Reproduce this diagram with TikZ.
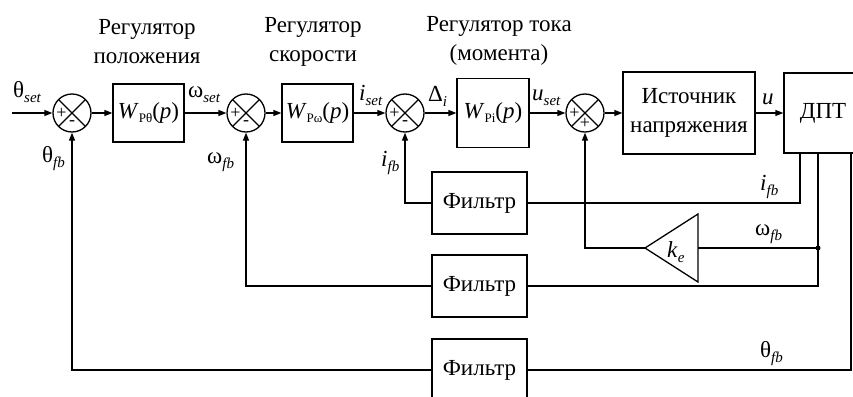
\documentclass[tikz,border=0pt]{standalone}
\usepackage{fontspec}
\setmainfont{Liberation Serif}
\usetikzlibrary{arrows.meta}
\newcommand{\lbl}{\fontsize{23}{29}\selectfont}
\newcommand{\signs}{\fontsize{18}{18}\selectfont}
\newcommand{\sig}[2]{#1\raisebox{-5pt}{\fontsize{15}{15}\selectfont\itshape #2}}
\newcommand{\tf}[1]{\textit{W}\raisebox{-4pt}{\fontsize{13}{13}\selectfont #1}(\textit{p})}
\tikzset{
 every node/.append style={font=\lbl,align=center},
 box/.style={draw,line width=1.3pt,inner sep=0pt},
 sumnode/.style={circle,draw,line width=1.3pt,minimum size=38pt,inner sep=0pt,path picture={
   \draw[line width=1.3pt] (path picture bounding box.north west) -- (path picture bounding box.south east)
     (path picture bounding box.north east) -- (path picture bounding box.south west);
   \node[font=\signs,inner sep=0pt] at ([xshift=-10.5pt]path picture bounding box.center) {+};
   \node[font=\signs,inner sep=0pt] at ([yshift=-10.5pt]path picture bounding box.center) {#1};}},
 sym/.style={anchor=base west,inner sep=0pt},
 wire/.style={line width=1.3pt},
 feed/.style={wire,-{Triangle[length=8pt,width=6pt]}},
}

\begin{document}
\begin{tikzpicture}[x=1pt,y=-1pt]

\useasboundingbox (0,0) rectangle (853,396);
\node (capA) at (147,42) {Регулятор\\положения};
\node (capB) at (313,42) {Регулятор\\скорости};
\node (capC) at (499,41) {Регулятор тока\\(момента)};

\coordinate (in) at (12,113);
\node[sumnode=-] (s1) at (72,113) {};
\node[box,minimum width=71,minimum height=58] (wth) at (148.5,113) {\tf{Рθ}};
\node[sumnode=-] (s2) at (246,113) {};
\node[box,minimum width=71,minimum height=58] (wom) at (317.5,113) {\tf{Рω}};
\node[sumnode=-] (s3) at (405,113) {};
\node[box,minimum width=72,minimum height=69] (wi) at (493,113) {\tf{Рi}};
\node[sumnode=+] (s4) at (585,113) {};
\node[box,minimum width=132,minimum height=82] (src) at (689,113) {Источник\\напряжения};
\node[box,minimum width=78,minimum height=80] (dpt) at (823,113) {ДПТ};

\draw[feed] (in) -- (s1);
\draw[feed] (s1) -- (wth);
\draw[feed] (wth) -- (s2);
\draw[feed] (s2) -- (wom);
\draw[feed] (wom) -- (s3);
\draw[feed] (s3) -- (wi);
\draw[feed] (wi) -- (s4);
\draw[feed] (s4) -- (src);
\draw[feed] (src) -- (dpt);

\foreach \y/\n in {203/1,286/2,370/3}
  \node[box,minimum width=95,minimum height=62] (filt\n) at (479.5,\y) {Фильтр};

\coordinate (ketip) at (645,248);
\coordinate (keback) at (698,248);
\draw[wire] (ketip) -- (698,214) -- (698,282) -- cycle;
\node[sym] (ke) at (667,257) {\sig{\textit{k}}{e}};
\coordinate (wdot) at ([xshift=-5pt]dpt.south |- ketip);

\draw[wire] ([xshift=-23pt]dpt.south) |- (filt1.east);
\draw[feed] (filt1.west) -| (s3.south);
\draw[wire] ([xshift=-5pt]dpt.south) |- (filt2.east);
\draw[feed] (filt2.west) -| (s2.south);
\draw[wire] ([xshift=28pt]dpt.south) |- (filt3.east);
\draw[feed] (filt3.west) -| (s1.south);
\draw[wire] (wdot) -- (keback);
\draw[feed] (ketip) -| (s4.south);
\fill (wdot) circle (2.5pt);

\node[sym] (thset) at (13,97) {\sig{θ}{set}};
\node[sym] (thfb) at (42,162) {\sig{θ}{fb}};
\node[sym] (omset) at (188,97) {\sig{ω}{set}};
\node[sym] (omfb) at (207,163) {\sig{ω}{fb}};
\node[sym] (iset) at (359,100) {\sig{\textit{i}}{set}};
\node[sym] (dlt) at (428,101) {\sig{Δ}{i}};
\node[sym] (ifb) at (381,166) {\sig{\textit{i}}{fb}};
\node[sym] (uset) at (532,100) {\sig{\textit{u}}{set}};
\node[sym] (uu) at (762,104) {\textit{u}};
\node[sym] (ifbr) at (760,190) {\sig{\textit{i}}{fb}};
\node[sym] (omfbr) at (755,235) {\sig{ω}{fb}};
\node[sym] (thfbr) at (760,357) {\sig{θ}{fb}};

\end{tikzpicture}
\end{document}
